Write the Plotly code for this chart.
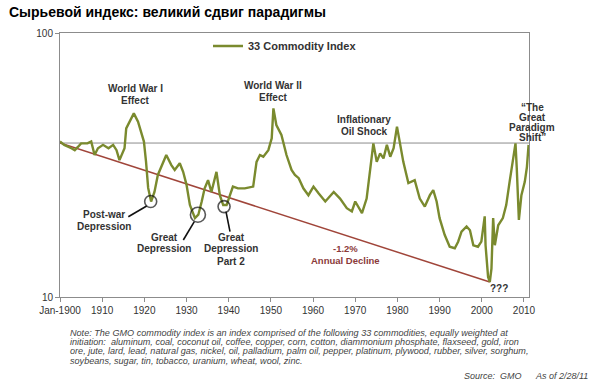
import math
import plotly.graph_objects as go

# ---------------- data ----------------
years = [1900.0, 1901.0, 1902.7, 1903.5, 1904.3, 1905.0, 1906.5, 1907.4, 1908.2, 1909.0,
         1910.2, 1911.5, 1912.6, 1913.4, 1914.1, 1915.3, 1915.7, 1916.5, 1917.5, 1918.5,
         1919.2, 1919.9, 1920.4, 1920.9, 1921.6, 1922.4, 1923.2, 1924.4, 1925.2, 1926.4,
         1927.2, 1928.4, 1929.2, 1930.0, 1930.8, 1932.0, 1932.8, 1933.6, 1934.3, 1935.1,
         1935.9, 1937.1, 1937.9, 1938.7, 1939.5, 1940.3, 1941.0, 1942.2, 1943.8, 1945.8,
         1946.6, 1947.4, 1948.2, 1949.4, 1950.2, 1950.6, 1951.3, 1952.5, 1953.7, 1954.9,
         1955.7, 1956.6, 1957.7, 1958.9, 1960.1, 1961.3, 1962.9, 1964.9, 1966.4, 1968.0,
         1969.2, 1970.0, 1970.8, 1971.6, 1972.7, 1973.5, 1974.3, 1975.1, 1975.9, 1976.7,
         1977.5, 1978.3, 1979.1, 1979.9, 1980.7, 1981.4, 1982.6, 1983.3, 1984.1, 1985.3,
         1986.5, 1987.7, 1988.5, 1989.3, 1990.0, 1991.2, 1992.4, 1993.6, 1994.4, 1995.2,
         1996.4, 1997.2, 1998.0, 1999.1, 1999.9, 2000.7, 2000.9, 2001.5, 2001.9, 2002.3,
         2002.7, 2003.1, 2003.9, 2005.0, 2005.8, 2006.6, 2007.4, 2008.0, 2008.3, 2008.8,
         2009.4, 2010.2, 2010.7, 2011.1]
index_values = [38.8, 37.7, 36.6, 36.0, 37.1, 38.2, 38.2, 38.8, 34.5, 36.6,
                37.7, 36.6, 37.7, 36.0, 33.0, 36.6, 43.5, 46.1, 49.6, 46.1,
                42.3, 38.8, 32.5, 25.9, 23.0, 25.0, 29.0, 32.5, 34.5, 31.6,
                30.3, 32.1, 29.8, 26.6, 22.3, 19.9, 20.5, 23.0, 25.8, 27.7,
                25.0, 29.8, 24.3, 22.3, 22.3, 24.3, 26.2, 25.8, 25.8, 26.2,
                32.5, 34.5, 34.0, 36.0, 39.9, 51.8, 44.8, 41.1, 34.5, 30.3,
                29.0, 28.2, 25.8, 24.3, 26.2, 24.7, 23.0, 25.0, 23.6, 21.7,
                21.1, 23.0, 22.0, 20.8, 23.6, 29.8, 38.2, 32.5, 35.0, 33.5,
                37.7, 34.0, 36.6, 44.2, 37.7, 32.5, 27.0, 27.3, 27.7, 23.6,
                22.0, 24.3, 25.4, 23.0, 19.9, 17.2, 15.5, 15.3, 16.2, 17.7,
                18.5, 17.9, 15.7, 15.5, 16.2, 20.2, 15.7, 11.9, 11.4, 12.8,
                19.9, 15.7, 18.7, 19.9, 22.3, 27.3, 32.5, 38.2, 30.7, 19.6,
                24.3, 27.3, 31.0, 37.7]

trend_years = [1900.0, 2001.9]
trend_values = [38.3, 11.4]

reference_level = 38.3

circle_years = [1921.5, 1932.7, 1938.9]
circle_values = [23.0, 20.5, 22.0]
circle_sizes = [12, 15, 12]

x_range = [1900, 2011.2]
x_tickvals = [1900, 1910, 1920, 1930, 1940, 1950, 1960, 1970, 1980, 1990, 2000, 2010]
x_ticktext = ["Jan-1900", "1910", "1920", "1930", "1940", "1950", "1960", "1970",
              "1980", "1990", "2000", "2010"]
y_tickvals = [10, 100]
y_ticktext = ["10", "100"]

# ---------------- layout geometry ----------------
W, H = 590, 389
L, R, T, B = 60, 529, 33, 297


def px(x):
    return (x - L) / (R - L)


def py(y):
    return (B - y) / (B - T)


FONT = "Liberation Sans, Arial, Helvetica, sans-serif"
OLIVE = "#7a8a2e"
BROWN = "#a0453a"
TXT = "#333333"

fig = go.Figure()

fig.add_trace(go.Scatter(
    x=x_range, y=[reference_level, reference_level], mode="lines",
    line=dict(color="#8c8c8c", width=1), showlegend=False, hoverinfo="skip"))

fig.add_trace(go.Scatter(
    x=trend_years, y=trend_values, mode="lines",
    line=dict(color=BROWN, width=1.5), showlegend=False, hoverinfo="skip"))

fig.add_trace(go.Scatter(
    x=years, y=index_values, mode="lines", name="<b>33 Commodity Index</b>",
    line=dict(color=OLIVE, width=2.4)))

fig.add_trace(go.Scatter(
    x=circle_years, y=circle_values, mode="markers",
    marker=dict(symbol="circle-open", size=circle_sizes, color="#111111",
                line=dict(width=1.6, color="#111111")),
    showlegend=False, hoverinfo="skip"))

annotations = []


def add_text(text, x, y, size=10, color=TXT, bold=True, xanchor="center", italic=False):
    t = text
    if bold:
        t = "<b>" + t + "</b>"
    if italic:
        t = "<i>" + t + "</i>"
    annotations.append(dict(text=t, x=px(x), y=py(y), xref="paper", yref="paper",
                            xanchor=xanchor, yanchor="middle", showarrow=False,
                            font=dict(family=FONT, size=size, color=color)))


# title
add_text("Сырьевой индекс: великий сдвиг парадигмы", 7, 12, size=14,
         color="#000000", xanchor="left")

add_text("World War I", 135, 88)
add_text("Effect", 135, 100)
add_text("World War II", 273, 85)
add_text("Effect", 273, 97)
add_text("Inflationary", 364, 119)
add_text("Oil Shock", 364, 131)
for i, s in enumerate(["\u201cThe", "Great", "Paradigm", "Shift\u201d"]):
    add_text(s, 532, 107 + 10 * i)
add_text("Post-war", 104, 214)
add_text("Depression", 104, 226)
add_text("Great", 164, 237)
add_text("Depression", 164, 249)
add_text("Great", 231, 237)
add_text("Depression", 231, 249)
add_text("Part 2", 231, 261)
add_text("-1.2%", 345, 249, size=9.5, color="#8b3a3a")
add_text("Annual Decline", 345, 260, size=9.5, color="#8b3a3a")
add_text("???", 499, 288)

note_lines = [
    "Note: The GMO commodity index is an index comprised of the following 33 commodities, equally weighted at",
    "initiation:  aluminum, coal, coconut oil, coffee, copper, corn, cotton, diammonium phosphate, flaxseed, gold, iron",
    "ore, jute, lard, lead, natural gas, nickel, oil, palladium, palm oil, pepper, platinum, plywood, rubber, silver, sorghum,",
    "soybeans, sugar, tin, tobacco, uranium, wheat, wool, zinc.",
]
for i, s in enumerate(note_lines):
    add_text(s, 68, 332.5 + 9.4 * i, size=9.1, color="#444444", bold=False,
             xanchor="left", italic=True)

add_text("Source:  GMO", 462, 376, size=9, color="#444444", bold=False,
         xanchor="left", italic=True)
add_text("As of 2/28/11", 533, 376, size=9, color="#444444", bold=False,
         xanchor="left", italic=True)

shapes = []
for (x0, y0, x1, y1) in [(128.3, 216.7, 146.7, 206.0),
                         (183.3, 240.0, 194.3, 221.7),
                         (230.0, 231.7, 226.0, 211.7)]:
    shapes.append(dict(type="line", xref="paper", yref="paper",
                       x0=px(x0), y0=py(y0), x1=px(x1), y1=py(y1),
                       line=dict(color="#111111", width=1.6)))

fig.update_layout(
    width=W, height=H,
    margin=dict(l=L, r=W - R, t=T, b=H - B, pad=0),
    paper_bgcolor="white", plot_bgcolor="white",
    font=dict(family=FONT, size=10, color=TXT),
    showlegend=True,
    legend=dict(x=px(208), y=py(46), xanchor="left", yanchor="middle",
                bgcolor="rgba(0,0,0,0)", font=dict(family=FONT, size=11, color=TXT),
                itemwidth=30, tracegroupgap=0),
    annotations=annotations,
    shapes=shapes,
)

fig.update_xaxes(range=x_range, tickvals=x_tickvals, ticktext=x_ticktext,
                 showgrid=False, zeroline=False, showline=True, mirror=True,
                 linecolor="#8c8c8c", linewidth=1, ticks="outside", ticklen=4,
                 tickcolor="#8c8c8c", tickfont=dict(family=FONT, size=10, color=TXT))
fig.update_yaxes(type="log", range=[1, 2], tickvals=y_tickvals, ticktext=y_ticktext,
                 showgrid=False, zeroline=False, showline=True, mirror=True,
                 linecolor="#8c8c8c", linewidth=1, ticks="outside", ticklen=4,
                 tickcolor="#8c8c8c", tickfont=dict(family=FONT, size=10, color=TXT))

fig.write_html("out.html", config={"displayModeBar": False},
               post_script="document.body.style.margin='0px';document.body.style.overflow='hidden';")
